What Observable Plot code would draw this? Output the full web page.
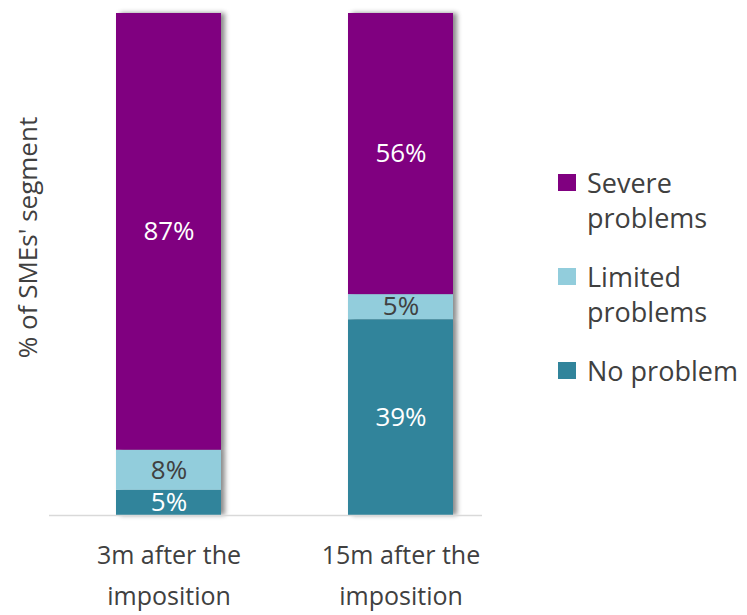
<!DOCTYPE html>
<html><head><meta charset="utf-8">
<script src="https://cdn.jsdelivr.net/npm/d3@7"></script>
<script src="https://cdn.jsdelivr.net/npm/@observablehq/plot@0.6"></script>
<style>
body{margin:0;background:#fff;font-family:"Open Sans",sans-serif;}
#wrap{position:relative;width:747px;height:615px;overflow:hidden;}
#legend{position:absolute;left:558px;top:165px;color:#404040;font-size:27px;line-height:35px;}
.entry{display:flex;align-items:flex-start;margin-bottom:24px;}
.sw{width:18px;height:17px;margin-top:9px;margin-right:11px;flex:none;}
.lab{white-space:pre;}
g[aria-label="bar"]{filter:drop-shadow(4px 0px 2.5px rgba(0,0,0,0.45));}
</style></head><body><div id="wrap"></div>
<script>
const periods = ["3m after the\nimposition", "15m after the\nimposition"];
const categories = ["No problem", "Limited problems", "Severe problems"];
const noProblem = [5, 39];
const limitedProblems = [8, 5];
const severeProblems = [87, 56];
const colors = ["#31849B", "#92CDDC", "#800080"];
const labelColors = ["#ffffff", "#404040", "#ffffff"];
const yLabel = "% of SMEs' segment";
const legendLabels = ["Severe\nproblems", "Limited\nproblems", "No problem"];
const legendOrder = [2, 1, 0];

const series = [noProblem, limitedProblems, severeProblems];
const data = [];
periods.forEach((p, i) => categories.forEach((c, k) => data.push({period: p, category: c, k, value: series[k][i]})));

const chart = Plot.plot({
  width: 747, height: 615,
  marginLeft: 49, marginRight: 265, marginTop: 13, marginBottom: 100,
  x: {domain: periods, range: [52.5, 516.5], paddingInner: 0.547, paddingOuter: 0.2735, label: null},
  y: {domain: [0, 100], axis: null},
  color: {type: "identity"},
  style: {fontFamily: "'Open Sans', sans-serif", color: "#404040", background: "#fff", overflow: "visible"},
  marks: [
    Plot.barY(data, Plot.stackY({x: "period", y: "value", fill: d => colors[d.k], order: categories})),
    Plot.ruleY([0], {stroke: "#d9d9d9", strokeWidth: 1.5}),
    Plot.text(data, Plot.stackY({x: "period", y: "value", order: categories, text: d => d.value + "%", fill: d => labelColors[d.k], fontSize: 26, clip: "frame"})),
    Plot.axisX({tickSize: 0, tickPadding: 20, fontSize: 25, lineHeight: 1.62, fill: "#404040", label: null}),
    Plot.text([yLabel], {frameAnchor: "left", textAnchor: "middle", rotate: -90, dx: -21, dy: -27, fontSize: 26, fill: "#404040"})
  ]
});
const wrap = document.getElementById("wrap");
wrap.appendChild(chart);
const legend = document.createElement("div");
legend.id = "legend";
legendOrder.forEach((k, j) => {
  const e = document.createElement("div");
  e.className = "entry";
  const sw = document.createElement("div");
  sw.className = "sw"; sw.style.background = colors[k];
  const lab = document.createElement("div");
  lab.className = "lab"; lab.textContent = legendLabels[j];
  e.appendChild(sw); e.appendChild(lab);
  legend.appendChild(e);
});
wrap.appendChild(legend);
</script></body></html>
